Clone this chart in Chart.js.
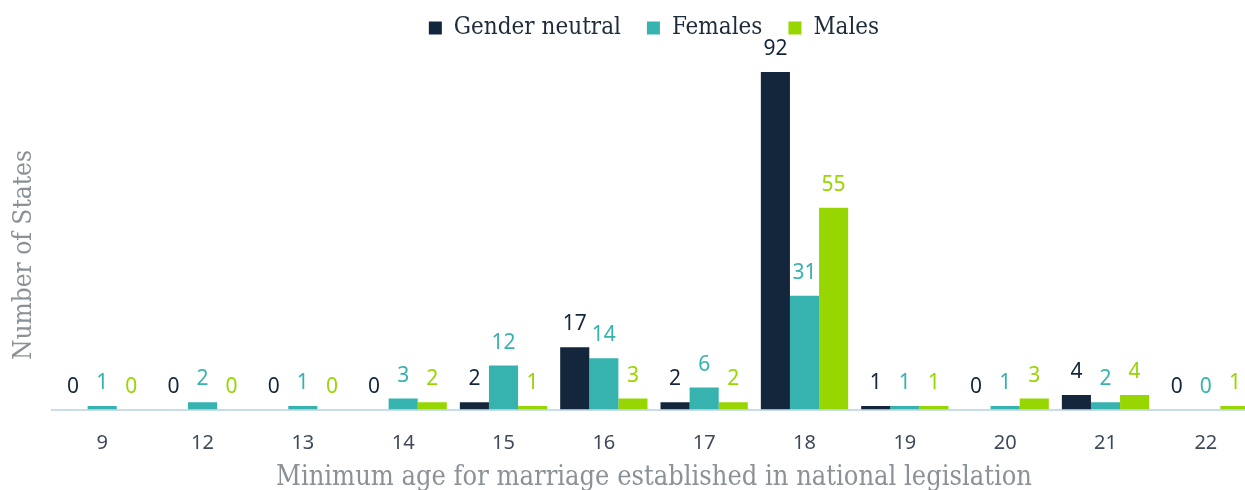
<!DOCTYPE html>
<html>
<head>
<meta charset="utf-8">
<script src="https://cdn.jsdelivr.net/npm/chart.js@4/dist/chart.umd.min.js"></script>
<style>
  html, body { margin: 0; padding: 0; background: #fff; overflow: hidden; }
  #wrap { position: relative; width: 1256px; height: 490px; }
</style>
</head>
<body>
<div id="wrap"><canvas id="ageChart"></canvas></div>
<script>
// data
const ages = ['9', '12', '13', '14', '15', '16', '17', '18', '19', '20', '21', '22'];
const genderNeutral = [0, 0, 0, 0, 2, 17, 2, 92, 1, 0, 4, 0];
const females = [1, 2, 1, 3, 12, 14, 6, 31, 1, 1, 2, 0];
const males = [0, 0, 0, 2, 1, 3, 2, 55, 1, 3, 4, 1];

const colNeutral = '#13263b';
const colFemales = '#37b3af';
const colMales = '#97d600';

const serif = "'DejaVu Serif Condensed', 'DejaVu Serif', serif";
const sans = "'Noto Sans', 'DejaVu Sans', sans-serif";

// value labels above each bar + the y axis title
const barLabels = {
    id: 'barLabels',
    afterDatasetsDraw(chart) {
        const ctx = chart.ctx;
        ctx.save();
        ctx.font = '21px ' + sans;
        ctx.textAlign = 'center';
        ctx.textBaseline = 'alphabetic';
        chart.data.datasets.forEach((ds, i) => {
            const meta = chart.getDatasetMeta(i);
            meta.data.forEach((bar, j) => {
                ctx.fillStyle = ds.backgroundColor;
                ctx.fillText(String(ds.data[j]), bar.x, bar.y - 17);
            });
        });

        // y title
        ctx.translate(24, 255);
        ctx.rotate(-Math.PI / 2);
        ctx.font = '26px ' + serif;
        ctx.fillStyle = '#8b9297';
        ctx.textBaseline = 'middle';
        ctx.fillText('Number of States', 0, 0);
        ctx.restore();
    }
};

const ctx = document.getElementById('ageChart').getContext('2d');
const myChart = new Chart(ctx, {
    type: 'bar',
    data: {
        labels: ages,
        datasets: [
            { label: 'Gender neutral', data: genderNeutral, backgroundColor: colNeutral },
            { label: 'Females', data: females, backgroundColor: colFemales },
            { label: 'Males', data: males, backgroundColor: colMales }
        ]
    },
    options: {
        responsive: true,
        maintainAspectRatio: false,
        animation: false,
        layout: { padding: { left: 52, right: 0, top: -10, bottom: 0 } },
        datasets: {
            bar: { categoryPercentage: 0.87, barPercentage: 1.0, borderWidth: 0 }
        },
        plugins: {
            legend: {
                position: 'top',
                labels: {
                    boxWidth: 13,
                    boxHeight: 13,
                    padding: 26,
                    color: '#1e2b3a',
                    font: { family: serif, size: 24 }
                }
            },
            tooltip: { enabled: false }
        },
        scales: {
            x: {
                grid: { display: false },
                border: { display: true, color: '#c9dcec', width: 2 },
                ticks: {
                    color: '#3e4a5a',
                    padding: 14,
                    font: { family: sans, size: 20 }
                },
                title: {
                    display: true,
                    text: 'Minimum age for marriage established in national legislation',
                    color: '#8b9297',
                    font: { family: serif, size: 27 },
                    padding: { top: -8, bottom: -4 }
                }
            },
            y: {
                display: false,
                min: 0,
                max: 98
            }
        }
    },
    plugins: [barLabels]
});
</script>
</body>
</html>
